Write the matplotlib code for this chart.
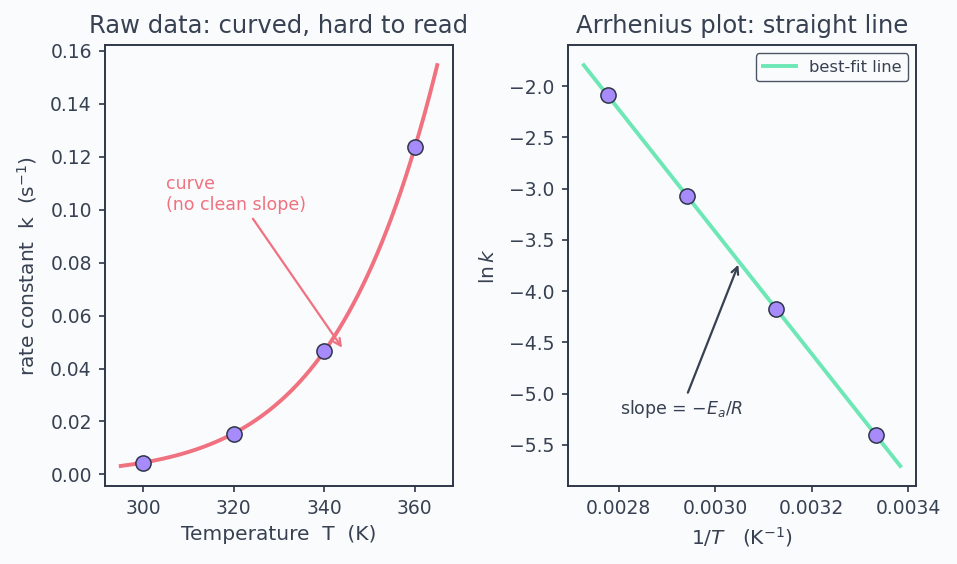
import numpy as np
import matplotlib
matplotlib.use("Agg")
import matplotlib.pyplot as plt

# Data
T = np.array([300, 320, 340, 360])            # K
k = np.array([0.0045, 0.0154, 0.0465, 0.1235])  # s^-1

titles = ["Raw data: curved, hard to read", "Arrhenius plot: straight line"]

BG = "#fafbfd"
DARK = "#2d3748"
TXT = "#374151"
PINK = "#f0717f"
PURPLE = "#a78bfa"
MINT = "#6ee7b7"

plt.rcParams['font.family'] = ['DejaVu Sans']
plt.rcParams['mathtext.fontset'] = 'dejavusans'

fig = plt.figure(figsize=(9.57, 5.64), dpi=100, facecolor=BG)
ax1 = fig.add_axes([0.1097, 0.1383, 0.3637, 0.7817])
ax2 = fig.add_axes([0.5935, 0.1383, 0.3637, 0.7817])

x = 1.0 / T
y = np.log(k)
slope, intercept = np.polyfit(x, y, 1)

# Left: raw
Tc = np.linspace(295, 365, 200)
ax1.plot(Tc, np.exp(intercept + slope / Tc), color=PINK, lw=2.8, zorder=2)
ax1.scatter(T, k, s=120, color=PURPLE, edgecolor=DARK, linewidth=1.1, zorder=3)
ax1.annotate("curve\n(no clean slope)", xy=(344.3, 0.047), xytext=(305, 0.100),
             color=PINK, fontsize=12.5,
             arrowprops=dict(arrowstyle="->", color=PINK, lw=1.6))
ax1.set_title(titles[0], fontsize=17.5, color=TXT, pad=9)
ax1.set_xlabel("Temperature  T  (K)", fontsize=14.5, color=TXT, labelpad=5)
ax1.set_ylabel("rate constant  k  (s$^{-1}$)", fontsize=14.5, color=TXT, labelpad=8)

# Right: Arrhenius
xl = np.linspace(x.min() - 5e-5, x.max() + 5e-5, 100)
ax2.plot(xl, intercept + slope * xl, color=MINT, lw=2.8, label="best-fit line", zorder=2)
ax2.scatter(x, y, s=120, color=PURPLE, edgecolor=DARK, linewidth=1.1, zorder=3)
xa = 0.00305
ax2.annotate("slope = $-E_a/R$", xy=(xa, intercept + slope * xa), xytext=(0.00293, -5.2),
             ha='center', color=TXT, fontsize=12.5,
             arrowprops=dict(arrowstyle="->", color=TXT, lw=1.6))
ax2.set_title(titles[1], fontsize=17.5, color=TXT, pad=9)
ax2.set_xlabel("$1/T$   (K$^{-1}$)", fontsize=14.5, color=TXT, labelpad=5)
ax2.set_ylabel("$\\ln k$", fontsize=14.5, color=TXT, labelpad=8)
ax2.set_xticks([0.0028, 0.0030, 0.0032, 0.0034])
leg = ax2.legend(loc='upper right', fontsize=11.8, frameon=True, fancybox=True,
                 edgecolor="#4b5563", facecolor=BG, framealpha=1)
for t in leg.get_texts():
    t.set_color(TXT)

for ax in (ax1, ax2):
    ax.set_facecolor(BG)
    for s in ax.spines.values():
        s.set_color(DARK)
        s.set_linewidth(1.4)
    ax.tick_params(colors=DARK, labelcolor=TXT, labelsize=13.5, length=4, width=1.2, pad=5.5)

fig.savefig("out.png", dpi=100, facecolor=BG)
